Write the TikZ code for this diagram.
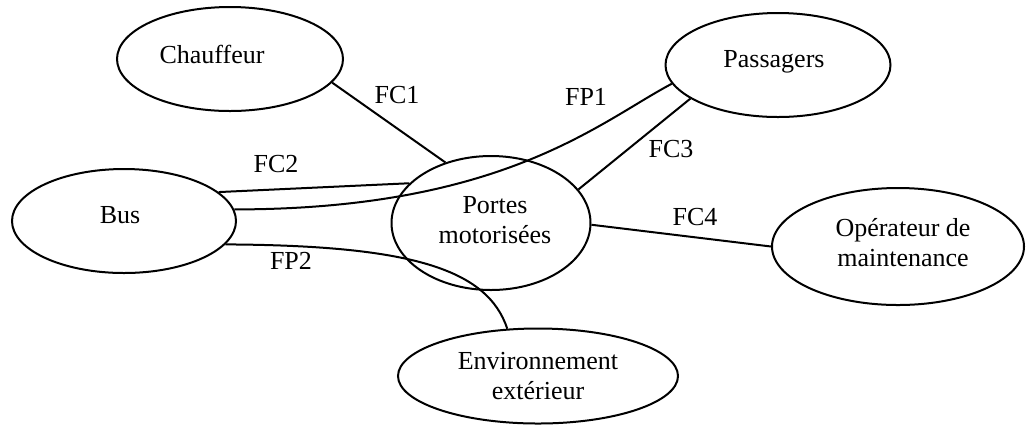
\documentclass[tikz,border=0pt]{standalone}
\usepackage{fontspec}
\setmainfont{Liberation Serif}
\usetikzlibrary{shapes.geometric}
\tikzset{
  actor/.style={ellipse, draw, line width=1pt, inner sep=0pt},
  caption/.style={font=\fontsize{13pt}{15pt}\selectfont, inner sep=0pt, align=center},
  flowlabel/.style={font=\fontsize{13pt}{15pt}\selectfont, inner sep=0pt},
  link/.style={line width=1pt},
}
\begin{document}
\begin{tikzpicture}[x=0.5pt, y=-0.5pt]
\useasboundingbox (0,0) rectangle (1028,425);

% actors around the system
\node[actor, minimum width=113pt, minimum height=52pt] (chauffeur) at (230,59) {};
\node[actor, minimum width=112.5pt, minimum height=52pt] (passagers) at (778,65) {};
\node[actor, minimum width=112pt, minimum height=52pt] (bus) at (124,221) {};
\node[actor, minimum width=99.5pt, minimum height=67pt] (portes) at (491,223) {};
\node[actor, minimum width=126pt, minimum height=58.5pt] (operateur) at (898,246.5) {};
\node[actor, minimum width=140pt, minimum height=47.5pt] (environnement) at (538,376) {};

% names inside the ellipses
\node[caption] (chauffeurtext) at (212,54) {Chauffeur};
\node[caption] (passagerstext) at (774,62) {Passagers};
\node[caption] (bustext) at (120,215) {Bus};
\node[caption] (portestext) at (495,220) {Portes\\motorisées};
\node[caption] (operateurtext) at (903,243) {Opérateur de\\maintenance};
\node[caption] (environnementtext) at (538,376) {Environnement\\extérieur};

% functions linking the actors
\draw[link] (chauffeur.-13.5) -- (portes.127.5);
\draw[link] (bus.17.5) -- (portes.154.8);
\draw[link] (bus.6.9) .. controls +(269,0) and +(-72,38) .. (passagers.190.2);
\draw[link] (passagers.201.2) -- (portes.21.1);
\draw[link] (portes.-1.7) -- (operateur.180);
\draw[link] (bus.-13.4) .. controls +(185,1) and +(-20,-60) .. (environnement.123);

% function labels
\node[flowlabel] (fc1) at (397,95) {FC1};
\node[flowlabel] (fc2) at (276,164) {FC2};
\node[flowlabel] (fp1) at (586,97) {FP1};
\node[flowlabel] (fc3) at (671,149) {FC3};
\node[flowlabel] (fc4) at (695,217) {FC4};
\node[flowlabel] (fp2) at (291,261) {FP2};
\end{tikzpicture}
\end{document}
